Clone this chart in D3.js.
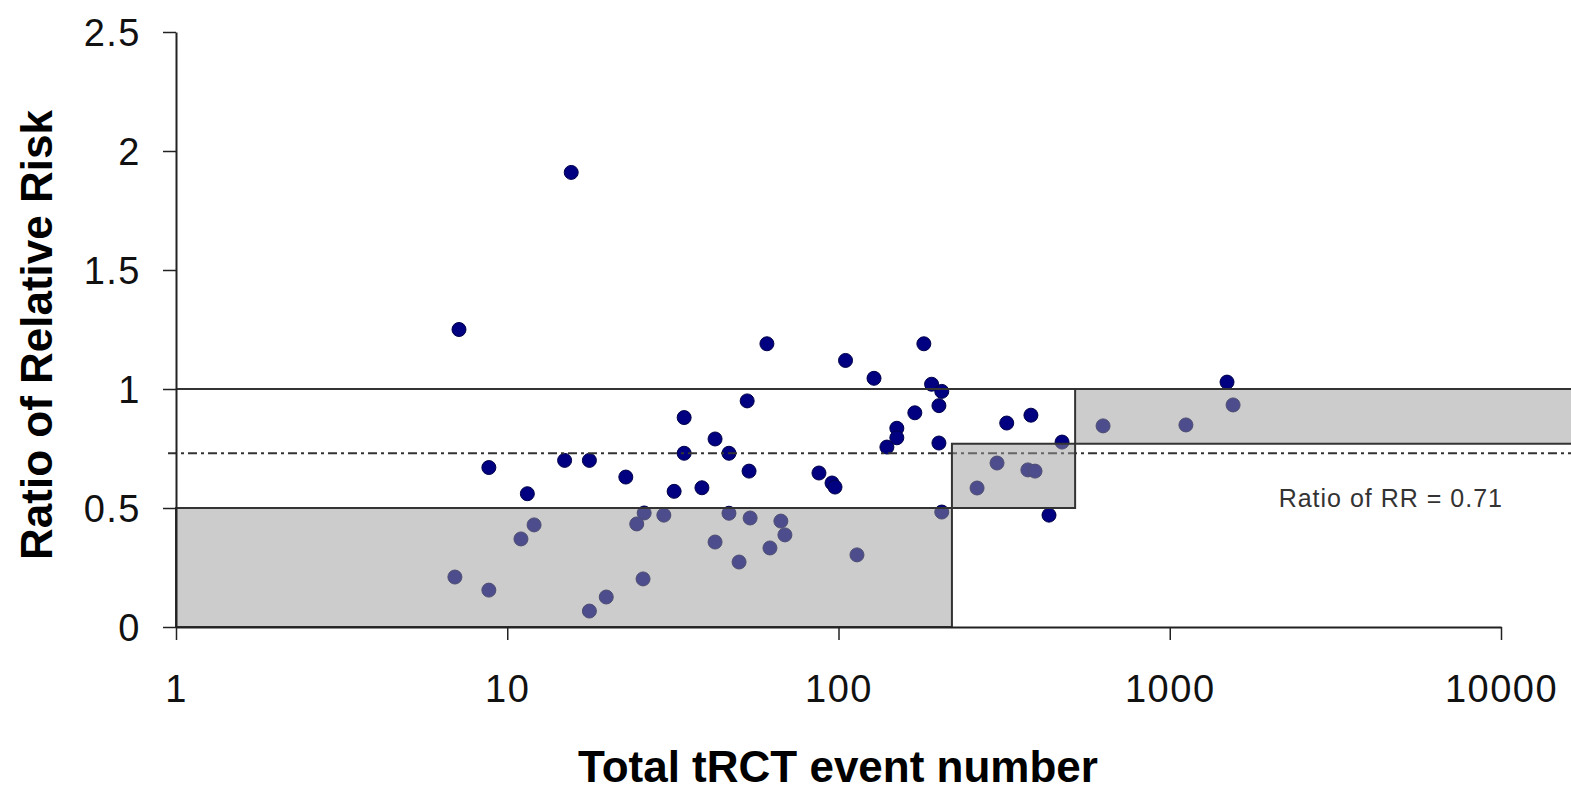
<!DOCTYPE html>
<html>
<head>
<meta charset="utf-8">
<script src="https://cdn.jsdelivr.net/npm/d3@7"></script>
<style>
  html, body { margin: 0; padding: 0; background: #fff; overflow: hidden; }
  text { font-family: "Liberation Sans", Arial, sans-serif; }
</style>
</head>
<body>
<div id="chart"></div>
<script>
// total tRCT events (x) and ratio of relative risk (y), one entry per meta-analysis
const events = [7.15, 60.8, 53, 34.2, 42.4, 34.2, 46.7, 8.8, 14.9, 17.7,
  22.8, 53.7, 11.5, 31.9, 38.7, 15.6, 105, 128, 181, 191,
  205, 201, 170, 150, 150, 140, 201, 322, 381, 473,
  87.3, 95.6, 97.6, 432, 25.9, 24.6, 29.7, 46.7, 54.1, 67,
  68.9, 62.1, 42.4, 50.1, 25.7, 19.9, 17.7, 12.05, 11.0, 6.95,
  8.8, 205, 301, 262, 373, 392, 629, 113.7, 1489, 1553, 1119];
const ratios = [1.25, 1.19, 0.95, 0.88, 0.79, 0.73, 0.73, 0.67, 0.70, 0.70,
  0.63, 0.655, 0.56, 0.57, 0.585, 1.91, 1.12, 1.045, 1.19, 1.02,
  0.99, 0.93, 0.90, 0.835, 0.795, 0.756, 0.773, 0.857, 0.89, 0.777,
  0.647, 0.605, 0.588, 0.47, 0.479, 0.433, 0.47, 0.478, 0.458, 0.445,
  0.387, 0.332, 0.357, 0.273, 0.202, 0.126, 0.067, 0.429, 0.37, 0.21,
  0.155, 0.483, 0.689, 0.584, 0.66, 0.655, 0.845, 0.303, 1.029, 0.933, 0.849];

// shaded zones: [x from, x to, ratio from, ratio to]
const zones = [
  [1, 220, 0, 0.5],
  [220, 518, 0.5, 0.77],
  [518, 20000, 0.77, 1]
];

const xTicks = [1, 10, 100, 1000, 10000];
const yTicks = [0, 0.5, 1, 1.5, 2, 2.5];
const refLine = 1;        // no difference line
const meanLine = 0.73;    // pooled ratio line
const meanLabel = "Ratio of RR = 0.71";

let width = 1571,
height = 794;

let svg = d3.select("#chart")
  .append("svg")
  .attr("width", width)
  .attr("height", height);

let x = d3.scaleLog().domain([1, 10000]).range([176, 1501]);
let y = d3.scaleLinear().domain([0, 2.5]).range([627, 32]);

let data = events.map((e, i) => ({e: e, r: ratios[i]}));

// points first, the grey zones are laid over them half see-through
svg.append("g")
  .selectAll("circle")
  .data(data)
  .join("circle")
  .attr("cx", d => x(d.e))
  .attr("cy", d => y(d.r))
  .attr("r", 7)
  .attr("fill", "#000080")
  .attr("stroke", "#00004a")
  .attr("stroke-width", 1);

// line at ratio 1
svg.append("line")
  .attr("x1", x(1)).attr("x2", x(20000))
  .attr("y1", y(refLine)).attr("y2", y(refLine))
  .attr("stroke", "#333").attr("stroke-width", 2);

svg.append("line")
  .attr("x1", x(1) - 8).attr("x2", x(20000))
  .attr("y1", y(meanLine)).attr("y2", y(meanLine))
  .attr("stroke", "#333").attr("stroke-width", 1.8)
  .attr("stroke-dasharray", "9,4,3,4");

svg.append("g")
  .selectAll("rect")
  .data(zones)
  .join("rect")
  .attr("x", d => x(d[0]))
  .attr("width", d => x(d[1]) - x(d[0]))
  .attr("y", d => y(d[3]))
  .attr("height", d => y(d[2]) - y(d[3]))
  .attr("fill", "#999")
  .attr("fill-opacity", 0.5)
  .attr("stroke", "#333")
  .attr("stroke-width", 2);

// axes
let xAxis = svg.append("g")
  .attr("transform", `translate(0,${y(0)})`)
  .call(d3.axisBottom(x).tickValues(xTicks).tickFormat(d3.format("d")).tickSize(13).tickSizeOuter(0));
xAxis.select(".domain").attr("stroke", "#222").attr("stroke-width", 2);
xAxis.selectAll(".tick line").attr("stroke", "#222").attr("stroke-width", 1.5);
xAxis.selectAll(".tick text")
  .attr("y", 75).attr("dy", 0)
  .style("font-size", "38px").style("letter-spacing", "1.5px")
  .attr("fill", "#111");

let yAxis = svg.append("g")
  .attr("transform", `translate(${x(1)},0)`)
  .call(d3.axisLeft(y).tickValues(yTicks).tickFormat(d => d).tickSize(13).tickSizeOuter(0).tickPadding(22));
yAxis.select(".domain").attr("stroke", "#222").attr("stroke-width", 2);
yAxis.selectAll(".tick line").attr("stroke", "#222").attr("stroke-width", 1.5);
yAxis.selectAll(".tick text")
  .style("font-size", "38px").style("letter-spacing", "1.5px")
  .attr("dy", "0.36em")
  .attr("fill", "#111");

// titles
svg.append("text")
  .attr("x", 838).attr("y", 782)
  .attr("text-anchor", "middle")
  .style("font-size", "44px").style("font-weight", "bold")
  .text("Total tRCT event number");

svg.append("text")
  .attr("transform", "translate(52,335) rotate(-90)")
  .attr("text-anchor", "middle")
  .style("font-size", "44px").style("font-weight", "bold")
  .text("Ratio of Relative Risk");

svg.append("text")
  .attr("x", x(10000) + 2).attr("y", y(0.5) - 1)
  .attr("text-anchor", "end")
  .style("font-size", "25px").style("letter-spacing", "1px")
  .attr("fill", "#333")
  .text(meanLabel);
</script>
</body>
</html>
